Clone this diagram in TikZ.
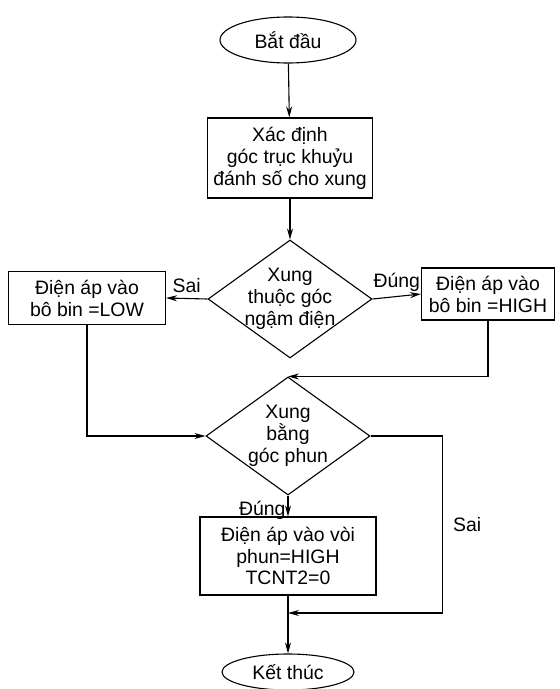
\documentclass[tikz,border=0pt]{standalone}
\usepackage{fontspec}
\setmainfont{Liberation Sans}
\usetikzlibrary{shapes.geometric,arrows.meta,positioning}
\newcommand{\flowfont}{\fontsize{19.5}{22}\selectfont}

\begin{document}
\begin{tikzpicture}[x=1bp, y=-1bp,
    terminal/.style={draw, ellipse, line width=1.1bp, minimum width=136bp,
                     minimum height=46bp, inner sep=0pt, font=\flowfont},
    process/.style={draw, rectangle, line width=1.1bp, align=center,
                    inner sep=0pt, font=\flowfont},
    decision/.style={draw, diamond, line width=1.1bp, minimum width=164bp,
                     minimum height=118bp, inner sep=0pt},
    arrow/.style={-{Stealth[length=11bp, width=6bp]}, line width=1.1bp},
    branch/.style={font=\flowfont, inner sep=2bp}
]
\useasboundingbox (0,0) rectangle (560,689);

% --- blocks ---
\node[terminal] (start) at (288,40) {Bắt đầu};

\node[process, minimum width=165bp, minimum height=80bp] (crank) at (290,158)
  {Xác định\\góc trục khuỷu\\đánh số cho xung};

\node[decision, label={[font=\flowfont, align=center]center:Xung\\thuộc góc\\ngậm điện}]
  (dwell) at (290,299) {};

\node[process, minimum width=157bp, minimum height=53bp] (coillow) at (87,298)
  {Điện áp vào\\bô bin =LOW};

\node[process, minimum width=133bp, minimum height=52bp] (coilhigh) at (488,294)
  {Điện áp vào\\bô bin =HIGH};

\node[decision, label={[font=\flowfont, align=center]center:Xung\\bằng\\góc phun}]
  (inject) at (288,436) {};

\node[process, minimum width=176bp, minimum height=78bp] (nozzle) at (288,556)
  {Điện áp vào vòi\\phun=HIGH\\TCNT2=0};

\node[terminal, minimum width=132bp, minimum height=36bp] (stop) at (288,672) {Kết thúc};

\coordinate (merge) at (288,613);

% --- arrows ---
\draw[arrow] (start) -- (crank);
\draw[arrow] (crank) -- (dwell);
\draw[arrow] (dwell.west) -- node[above, branch, yshift=3bp]{Sai} (coillow.east);
\draw[arrow] (dwell.east) -- node[above, branch, yshift=2bp]{Đúng} (coilhigh.west);
\draw[arrow] (coillow.south) |- (inject.west);
\draw[arrow] (coilhigh.south) |- (inject.north);
\draw[arrow] (inject.south) -- node[left, branch, pos=0.72]{Đúng} (nozzle.north);
\draw[arrow] (inject.east) -- ++(72,0) |- node[pos=0.25, right, branch, xshift=8bp]{Sai} (merge);
\draw[arrow] (nozzle.south) -- (stop.north);

\end{tikzpicture}
\end{document}
